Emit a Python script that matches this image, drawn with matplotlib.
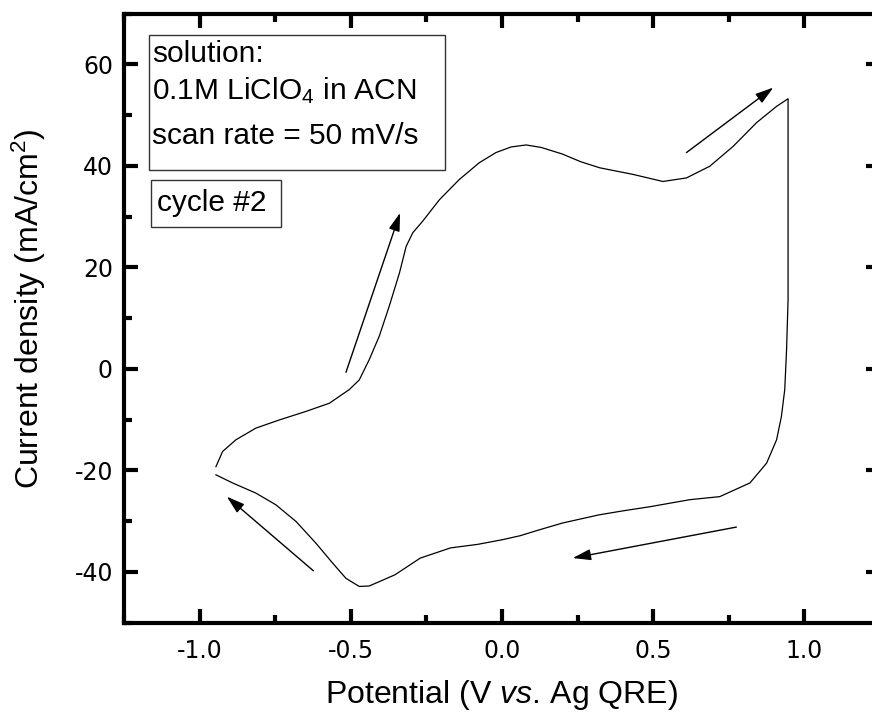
import numpy as np
import matplotlib
matplotlib.use("Agg")
import matplotlib.pyplot as plt
from matplotlib.patches import Rectangle

plt.rcParams['font.family'] = ['Liberation Sans', 'DejaVu Sans']
plt.rcParams['mathtext.fontset'] = 'custom'
plt.rcParams['mathtext.rm'] = 'Liberation Sans'
plt.rcParams['mathtext.it'] = 'Liberation Sans:italic'
plt.rcParams['axes.unicode_minus'] = False

# cycle #2: anodic sweep, vertex, cathodic sweep
potential = [-0.946, -0.924, -0.880, -0.814, -0.737, -0.648, -0.571, -0.505, -0.472,
             -0.439, -0.406, -0.373, -0.339, -0.317, -0.295, -0.262, -0.207, -0.141,
             -0.075, -0.02, 0.03, 0.08, 0.13, 0.20, 0.26, 0.323, 0.433, 0.532, 0.61,
             0.687, 0.764, 0.842, 0.908, 0.946,
             0.946, 0.941, 0.935, 0.924, 0.908, 0.875, 0.820, 0.720, 0.621, 0.488,
             0.40, 0.32, 0.20, 0.12, 0.06, 0.0, -0.08, -0.17, -0.27, -0.354, -0.40,
             -0.439, -0.472, -0.516, -0.560, -0.615, -0.681, -0.748, -0.814, -0.891, -0.946]
current = [-19.3, -16.3, -14.0, -11.7, -10.1, -8.4, -6.8, -4.1, -2.2,
           1.8, 6.4, 12.3, 18.9, 24.1, 26.8, 29.1, 33.3, 37.3,
           40.6, 42.6, 43.7, 44.1, 43.6, 42.3, 40.8, 39.6, 38.3, 36.9, 37.6,
           39.9, 43.8, 48.5, 51.7, 53.2,
           13.6, 3.7, -4.1, -9.4, -14.0, -18.6, -22.5, -25.2, -25.8, -27.2,
           -28.0, -28.8, -30.4, -31.8, -32.9, -33.7, -34.6, -35.3, -37.3, -40.6, -41.8,
           -42.8, -42.9, -41.3, -38.3, -34.4, -30.1, -26.8, -24.5, -22.5, -20.9]

# scan direction arrows: (tail, tip)
arrows = [((0.610, 42.6), (0.897, 55.4)),
          ((-0.516, -0.7), (-0.337, 30.7)),
          ((-0.624, -39.8), (-0.910, -25.2)),
          ((0.775, -31.2), (0.234, -37.3))]

info_lines = ["solution:", "0.1M LiClO$_4$ in ACN", "scan rate = 50 mV/s"]
cycle_label = "cycle #2"

fig = plt.figure(figsize=(8.72, 7.13), dpi=100)
ax = fig.add_axes([124 / 872, 1 - 622.5 / 713, 756 / 872, 609 / 713])

ax.plot(potential, current, color='black', lw=0.9)

for tail, tip in arrows:
    ax.annotate('', xy=tip, xytext=tail,
                arrowprops=dict(arrowstyle='-|>,head_length=0.55,head_width=0.17',
                                mutation_scale=20, lw=1.0, color='black',
                                shrinkA=0, shrinkB=0))

ax.set_xlim(-1.25, 1.25)
ax.set_ylim(-50, 70)
ax.set_xticks([-1.0, -0.5, 0.0, 0.5, 1.0])
ax.set_xticks(np.arange(-1.25, 1.26, 0.25), minor=True)
ax.set_yticks([-40, -20, 0, 20, 40, 60])
ax.set_yticks(np.arange(-50, 71, 10), minor=True)

for s in ax.spines.values():
    s.set_linewidth(3)
ax.tick_params(which='both', direction='in', top=True, right=True, width=3)
ax.tick_params(which='major', length=10)
ax.tick_params(which='minor', length=5.5)
ax.tick_params(axis='x', which='major', pad=12)
ax.tick_params(axis='y', which='major', pad=8)
for lab in ax.get_xticklabels() + ax.get_yticklabels():
    lab.set_fontfamily('DejaVu Sans')
    lab.set_fontsize(17)

ax.set_xlabel(r'$\mathrm{Potential\ (V\ }\mathit{vs.}\,\mathrm{Ag\ QRE)}$', fontsize=23, labelpad=11)
ax.set_ylabel('Current density (mA/cm$^2$)', fontsize=23)
ax.yaxis.set_label_coords(-0.10, 0.515)

# annotation boxes
ax.add_patch(Rectangle((-1.167, 39.1), 0.98, 26.6, fill=False, lw=1.0, ec='#333333'))
ys = [60.4, 53.2, 44.2]
for t, y in zip(info_lines, ys):
    ax.text(-1.157, y, t, fontsize=21.5, va='baseline', ha='left')
ax.add_patch(Rectangle((-1.162, 27.9), 0.431, 9.3, fill=False, lw=1.0, ec='#333333'))
ax.text(-1.140, 31.0, cycle_label, fontsize=21.5, va='baseline', ha='left')

fig.savefig('out.png', dpi=100)
